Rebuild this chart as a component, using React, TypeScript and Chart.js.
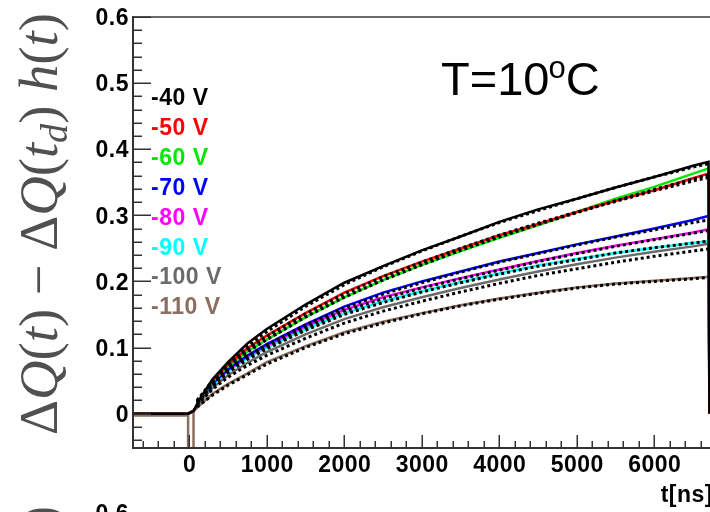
import { useEffect, useRef } from 'react';
import { Chart, registerables } from 'chart.js';

Chart.register(...registerables);

// ---------- data ----------
const seriesLabels = ['-40 V', '-50 V', '-60 V', '-70 V', '-80 V', '-90 V', '-100 V', '-110 V'];
const seriesColors = ['#000000', '#ff0000', '#00e800', '#0000ff', '#ff00ff', '#00ffff', '#6b6b6b', '#8c6e60'];

const timeNs = [-730, -15, 55, 150, 300, 500, 750, 1000, 1500, 2000, 2500, 3000, 3500, 4000, 4500, 5000, 5500, 6000, 6500, 6700, 6712];

const q40 = [0, 0, 0.004, 0.025, 0.052, 0.078, 0.106, 0.128, 0.165, 0.198, 0.223, 0.247, 0.268, 0.290, 0.309, 0.325, 0.342, 0.358, 0.375, 0.381, 0];
const q50 = [0, 0, 0.004, 0.024, 0.050, 0.074, 0.099, 0.118, 0.152, 0.183, 0.208, 0.230, 0.250, 0.270, 0.287, 0.305, 0.322, 0.338, 0.356, 0.363, 0];
const q60 = [0, 0, 0.004, 0.023, 0.048, 0.071, 0.094, 0.112, 0.146, 0.176, 0.202, 0.225, 0.246, 0.266, 0.285, 0.305, 0.325, 0.343, 0.363, 0.371, 0];
const q70 = [0, 0, 0.004, 0.022, 0.046, 0.067, 0.088, 0.105, 0.135, 0.162, 0.183, 0.200, 0.215, 0.230, 0.243, 0.256, 0.268, 0.280, 0.293, 0.299, 0];
const q80 = [0, 0, 0.004, 0.023, 0.046, 0.066, 0.087, 0.103, 0.132, 0.157, 0.176, 0.191, 0.205, 0.218, 0.231, 0.243, 0.254, 0.264, 0.274, 0.279, 0];
const q90 = [0, 0, 0.004, 0.022, 0.044, 0.064, 0.084, 0.100, 0.128, 0.152, 0.170, 0.185, 0.199, 0.212, 0.224, 0.234, 0.243, 0.251, 0.258, 0.261, 0];
const q100 = [0, 0, 0.004, 0.019, 0.039, 0.058, 0.077, 0.093, 0.120, 0.143, 0.161, 0.176, 0.190, 0.203, 0.215, 0.226, 0.236, 0.245, 0.253, 0.257, 0];
const q110 = [-0.003, -0.003, 0.004, 0.014, 0.030, 0.045, 0.061, 0.078, 0.102, 0.123, 0.139, 0.152, 0.164, 0.174, 0.183, 0.191, 0.197, 0.201, 0.205, 0.207, 0];
const seriesValues = [q40, q50, q60, q70, q80, q90, q100, q110];

// the -110 V histogram dips below the frame in the first bin
const dipTimeNs = [-15, -15, 55, 55];
const dipValues = [-0.003, -0.09, -0.09, 0.004];

const fitTimeNs = [100, 300, 500, 750, 1000, 1500, 2000, 2500, 3000, 3500, 4000, 4500, 5000, 5500, 6000, 6500, 6700];
const fit40 = [0.020, 0.050, 0.075, 0.102, 0.124, 0.162, 0.195, 0.222, 0.246, 0.268, 0.289, 0.307, 0.325, 0.342, 0.358, 0.373, 0.378];
const fit50 = [0.019, 0.048, 0.072, 0.097, 0.117, 0.151, 0.181, 0.207, 0.229, 0.250, 0.270, 0.288, 0.305, 0.321, 0.337, 0.352, 0.357];
const fit60 = [0.018, 0.047, 0.070, 0.093, 0.112, 0.146, 0.176, 0.202, 0.225, 0.247, 0.267, 0.286, 0.304, 0.322, 0.339, 0.355, 0.361];
const fit70 = [0.017, 0.045, 0.066, 0.087, 0.104, 0.134, 0.160, 0.181, 0.198, 0.214, 0.229, 0.242, 0.255, 0.267, 0.278, 0.289, 0.293];
const fit80 = [0.017, 0.044, 0.065, 0.085, 0.101, 0.130, 0.155, 0.174, 0.190, 0.204, 0.217, 0.230, 0.242, 0.253, 0.263, 0.273, 0.277];
const fit90 = [0.016, 0.042, 0.062, 0.082, 0.098, 0.126, 0.150, 0.168, 0.184, 0.198, 0.211, 0.223, 0.233, 0.243, 0.251, 0.258, 0.261];
const fit100 = [0.013, 0.037, 0.055, 0.073, 0.088, 0.114, 0.137, 0.155, 0.170, 0.184, 0.197, 0.209, 0.219, 0.229, 0.238, 0.246, 0.249];
const fit110 = [0.010, 0.028, 0.043, 0.059, 0.075, 0.100, 0.121, 0.137, 0.151, 0.163, 0.173, 0.182, 0.190, 0.196, 0.200, 0.204, 0.206];
const fitValues = [fit40, fit50, fit60, fit70, fit80, fit90, fit100, fit110];

const xTickValues = [0, 1000, 2000, 3000, 4000, 5000, 6000];
const xTickLabels = ['0', '1000', '2000', '3000', '4000', '5000', '6000'];
const yTickValues = [0, 0.1, 0.2, 0.3, 0.4, 0.5, 0.6];
const yTickLabels = ['0', '0.1', '0.2', '0.3', '0.4', '0.5', '0.6'];

const titleMain = 'T=10';
const titleSup = 'o';
const titleEnd = 'C';
const xTitle = 't[ns]';

// ---------- helpers ----------
function toPoints(xs: number[], ys: number[]) {
  return xs.map((x, i) => ({ x, y: ys[i] }));
}

const SANS = '"Liberation Sans", Arial, Helvetica, sans-serif';
const SERIF = '"Liberation Serif", "Times New Roman", serif';

function drawYLabel(ctx: CanvasRenderingContext2D, baseX: number, startY: number, length: number) {
  // pieces of  ΔQ(t) − ΔQ(t_d) h(t)
  const pieces: { t: string; it: boolean; sub?: boolean }[] = [
    { t: 'Δ', it: false }, { t: 'Q', it: true }, { t: '(', it: false }, { t: 't', it: true }, { t: ')', it: false },
    { t: ' − ', it: false },
    { t: 'Δ', it: false }, { t: 'Q', it: true }, { t: '(', it: false }, { t: 't', it: true }, { t: 'd', it: true, sub: true }, { t: ')', it: false },
    { t: ' ', it: false }, { t: 'h', it: true }, { t: '(', it: false }, { t: 't', it: true }, { t: ')', it: false },
  ];
  const fontFor = (p: { it: boolean; sub?: boolean }, size: number) =>
    `${p.it ? 'italic ' : ''}${p.sub ? size * 0.7 : size}px ${SERIF}`;
  const measure = (size: number) => {
    let w = 0;
    for (const p of pieces) {
      ctx.font = fontFor(p, size);
      w += ctx.measureText(p.t).width;
    }
    return w;
  };
  const size = 50 * length / measure(50);
  ctx.save();
  ctx.translate(baseX, startY);
  ctx.rotate(-Math.PI / 2);
  ctx.fillStyle = '#505050';
  ctx.textAlign = 'left';
  ctx.textBaseline = 'alphabetic';
  let x = 0;
  for (const p of pieces) {
    ctx.font = fontFor(p, size);
    ctx.fillText(p.t, x, p.sub ? size * 0.18 : 0);
    x += ctx.measureText(p.t).width;
  }
  ctx.restore();
}

const framePlugin = {
  id: 'rootFrame',
  afterDatasetsDraw(chart: any) {
    const ctx: CanvasRenderingContext2D = chart.ctx;
    const { left, right, top, bottom } = chart.chartArea;
    const xs = chart.scales.x;
    const ys = chart.scales.y;
    ctx.save();

    // frame
    ctx.lineCap = 'butt';
    ctx.strokeStyle = '#6a6a6a';
    ctx.lineWidth = 2;
    ctx.beginPath();
    ctx.moveTo(left, top);
    ctx.lineTo(right, top);
    ctx.stroke();
    ctx.strokeStyle = '#333';
    ctx.beginPath();
    ctx.moveTo(left, top - 1);
    ctx.lineTo(left, bottom);
    ctx.lineTo(right, bottom);
    ctx.stroke();

    // y ticks (inside)
    ctx.lineWidth = 1.5;
    for (let i = -2; i <= 30; i++) {
      const v = i * 0.02;
      const py = Math.round(ys.getPixelForValue(v)) + 0.25;
      if (py < top - 1 || py > bottom) continue;
      const len = i % 5 === 0 ? 18 : 9;
      ctx.beginPath();
      ctx.moveTo(left, py);
      ctx.lineTo(left + len, py);
      ctx.stroke();
    }
    // x ticks (inside)
    for (let i = -3; i <= 34; i++) {
      const v = i * 200;
      const px = Math.round(xs.getPixelForValue(v)) + 0.25;
      if (px < left || px > right) continue;
      const len = i % 5 === 0 ? 13 : 7;
      ctx.beginPath();
      ctx.moveTo(px, bottom);
      ctx.lineTo(px, bottom - len);
      ctx.stroke();
    }

    // tick labels
    ctx.fillStyle = '#000';
    ctx.font = `bold 23px ${SANS}`;
    (ctx as any).letterSpacing = '0.5px';
    ctx.textBaseline = 'alphabetic';
    ctx.textAlign = 'right';
    yTickValues.forEach((v, i) => {
      const py = ys.getPixelForValue(v);
      ctx.fillText(yTickLabels[i], left - 4, py + 8.2);
    });
    ctx.textAlign = 'center';
    xTickValues.forEach((v, i) => {
      const px = xs.getPixelForValue(v);
      ctx.fillText(xTickLabels[i], px + 0.5, bottom + 24);
    });

    // x title
    ctx.textAlign = 'right';
    ctx.fillText(xTitle, 713, 502);

    // fragment of the next panel below
    ctx.fillText('0.6', left - 4, 510 + 8.2 + 3);

    // legend
    ctx.font = `bold 23px ${SANS}`;
    ctx.textAlign = 'left';
    seriesLabels.forEach((lab, i) => {
      ctx.fillStyle = seriesColors[i];
      ctx.fillText(lab, 151, 105 + i * 29.9);
    });
    (ctx as any).letterSpacing = '0px';

    // title T=10ºC
    ctx.fillStyle = '#000';
    ctx.font = `47px ${SANS}`;
    let tx = 441;
    ctx.fillText(titleMain, tx, 95);
    tx += ctx.measureText(titleMain).width;
    ctx.font = `31px ${SANS}`;
    ctx.fillText(titleSup, tx - 1, 78);
    tx += ctx.measureText(titleSup).width - 1;
    ctx.font = `47px ${SANS}`;
    ctx.fillText(titleEnd, tx, 95);

    // y title (and the top of the next panel's one)
    drawYLabel(ctx, 57, 435, 422);
    drawYLabel(ctx, 57, 435 + 493, 422);

    ctx.restore();
  },
};

export default function App() {
  const canvasRef = useRef<HTMLCanvasElement | null>(null);

  useEffect(() => {
    const canvas = canvasRef.current;
    if (!canvas) return;

    const curveSets = seriesValues.map((vals, i) => {
      let pts = toPoints(timeNs, vals);
      if (i === seriesValues.length - 1) {
        pts = [...pts.slice(0, 1), ...toPoints(dipTimeNs, dipValues), ...pts.slice(2)];
      }
      return {
        label: seriesLabels[i],
        data: pts,
        borderColor: seriesColors[i],
        backgroundColor: seriesColors[i],
        borderWidth: 2.5,
        pointRadius: 0,
        fill: false,
        tension: 0,
        order: 1,
      };
    });
    const fitSets = fitValues.map((vals, i) => ({
      label: 'fit ' + seriesLabels[i],
      data: toPoints(fitTimeNs, vals),
      borderColor: '#000000',
      borderWidth: 3,
      borderDash: [3, 3],
      pointRadius: 0,
      fill: false,
      tension: 0,
      order: 0,
    }));

    const chart = new Chart(canvas, {
      type: 'line',
      data: { datasets: [...curveSets, ...fitSets] as any },
      options: {
        animation: false,
        responsive: false,
        devicePixelRatio: 1,
        layout: { padding: { left: 133, top: 17, right: 0, bottom: 64 } },
        scales: {
          x: { type: 'linear', min: -726, max: 6719, display: false },
          y: { type: 'linear', min: -0.052, max: 0.6, display: false },
        },
        plugins: {
          legend: { display: false },
          tooltip: { enabled: false },
        },
      },
      plugins: [framePlugin],
    });
    return () => chart.destroy();
  }, []);

  return (
    <div style={{ position: 'fixed', left: 0, top: 0, width: 710, height: 512, background: '#fff', overflow: 'hidden' }}>
      <canvas ref={canvasRef} width={710} height={512} style={{ display: 'block', width: 710, height: 512 }} />
    </div>
  );
}
